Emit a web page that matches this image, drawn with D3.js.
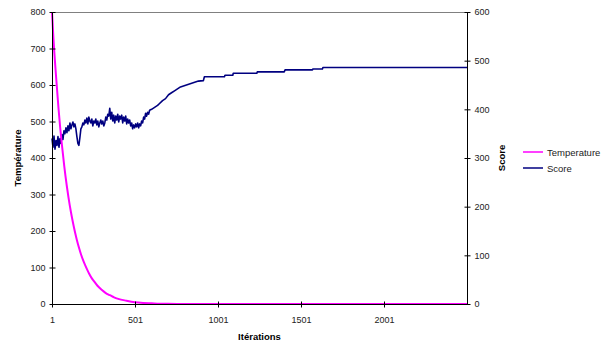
<!DOCTYPE html>
<html><head><meta charset="utf-8">
<script src="https://cdn.jsdelivr.net/npm/d3@7/dist/d3.min.js"></script>
<style>body{margin:0;background:#fff}svg{display:block;font-family:"Liberation Sans",Arial,sans-serif}</style>
</head><body><svg id="c" width="613" height="347"></svg>
<script>
// ---- data ----
const xTicks = [1, 501, 1001, 1501, 2001];
const yLeftTicks = [0, 100, 200, 300, 400, 500, 600, 700, 800];
const yRightTicks = [0, 100, 200, 300, 400, 500, 600];
const seriesNames = ["Temperature", "Score"];

const tempIter = [1, 10, 25, 40, 50, 60, 75, 90, 100, 115, 125, 140, 150, 165, 175, 190, 200, 215, 225, 240, 250, 275, 300, 325, 350, 375, 400, 450, 500, 550, 600, 650, 700, 800, 1000, 1500, 2000, 2501];
const tempVal  = [800, 725, 626, 537, 485, 439, 377, 324, 293, 252, 228, 196, 177, 152, 137, 118, 107, 92, 83, 71, 65, 50, 39, 30, 24, 18, 14, 9, 5, 3, 2, 1, 0.5, 0, 0, 0, 0, 0];

const scoreIter = [1, 7, 13, 19, 25, 31, 37, 43, 49, 55, 61, 67, 73, 79, 85, 91, 97, 103, 109, 115, 121, 127, 133, 139, 145, 151, 157, 163, 169, 175, 181, 187, 193, 199, 205, 211, 217, 223, 229, 235, 241, 247, 253, 259, 265, 271, 277, 283, 289, 295, 301, 307, 313, 319, 325, 331, 337, 343, 349, 355, 361, 367, 373, 379, 385, 391, 397, 403, 409, 415, 421, 427, 433, 439, 445, 451, 457, 463, 469, 475, 481, 487, 493, 499, 505, 511, 517, 523, 529, 535, 541, 547, 553, 559, 565, 571, 577, 583, 589, 601, 619, 637, 649, 667, 685, 703, 721, 739, 757, 775, 793, 811, 829, 847, 865, 883, 913, 919, 1040, 1043, 1090, 1093, 1235, 1238, 1400, 1405, 1570, 1573, 1630, 1633, 2501];
const scoreVal  = [340, 322, 345, 318, 336, 326, 344, 322, 340, 330, 348, 338, 356, 350, 362, 352, 366, 356, 372, 360, 368, 374, 364, 370, 360, 344, 330, 326, 342, 360, 364, 372, 368, 378, 372, 382, 370, 384, 376, 372, 380, 366, 376, 372, 380, 368, 376, 364, 372, 378, 370, 376, 366, 372, 384, 378, 390, 386, 402, 380, 394, 376, 388, 372, 386, 378, 390, 374, 386, 380, 388, 372, 384, 376, 386, 370, 380, 372, 378, 366, 372, 360, 368, 362, 370, 364, 372, 362, 370, 366, 376, 372, 384, 380, 392, 386, 394, 390, 398, 400, 404, 408, 412, 418, 422, 430, 434, 438, 442, 446, 448, 450, 452, 454, 456, 458, 459, 467, 467, 470, 470, 474, 474, 477, 477, 481, 481, 483, 483, 486, 486];

// ---- chart ----
const svg = d3.select("#c");
const L = 52, R = 467, T = 12, B = 304;
const x = d3.scaleLinear().domain([1, 2501]).range([L, R]);
const yL = d3.scaleLinear().domain([0, 800]).range([B, T]);
const yR = d3.scaleLinear().domain([0, 600]).range([B, T]);
const txt = "#222";

// top border
svg.append("line").attr("x1", L).attr("x2", R).attr("y1", T + 0.5).attr("y2", T + 0.5)
  .attr("stroke", "#808080").attr("stroke-width", 1);

const tempData = tempIter.map((d, i) => [d, tempVal[i]]);
const scoreData = scoreIter.map((d, i) => [d, scoreVal[i]]);

svg.append("path").datum(scoreData)
  .attr("d", d3.line().x(d => x(d[0])).y(d => yR(d[1])))
  .attr("fill", "none").attr("stroke", "#000080").attr("stroke-width", 1.6).attr("stroke-linejoin", "round");
svg.append("path").datum(tempData)
  .attr("d", d3.line().x(d => x(d[0])).y(d => yL(d[1])).curve(d3.curveMonotoneX))
  .attr("fill", "none").attr("stroke", "#FF00FF").attr("stroke-width", 2);

// axes
const gL = svg.append("g").attr("transform", `translate(${L + 0.5},0)`)
  .call(d3.axisLeft(yL).tickValues(yLeftTicks).tickSize(3).tickPadding(4));
gL.selectAll(".tick line").attr("x1", 3);
const gR = svg.append("g").attr("transform", `translate(${R + 0.5},0)`)
  .call(d3.axisRight(yR).tickValues(yRightTicks).tickSize(3).tickPadding(4));
gR.selectAll(".tick line").attr("x1", -3);
const gB = svg.append("g").attr("transform", `translate(0,${B + 0.5})`)
  .call(d3.axisBottom(x).tickValues(xTicks).tickFormat(d3.format("d")).tickSize(3).tickPadding(9));
gB.selectAll(".tick line").attr("y1", -3);
[gL, gR, gB].forEach(g => {
  g.select(".domain").attr("stroke", "#000");
  g.selectAll(".tick line").attr("stroke", "#000");
  g.selectAll("text").attr("fill", txt).style("font-size", "9px").style("font-family", '"Liberation Sans",Arial,sans-serif');
});
gL.select(".domain").attr("d", `M0,${T}V${B}`);
gR.select(".domain").attr("d", `M0,${T}V${B}`);
gB.select(".domain").attr("d", `M${L},0H${R}`);

// titles
svg.append("text").attr("transform", `translate(21,${(T + B) / 2}) rotate(-90)`)
  .attr("text-anchor", "middle").attr("font-size", 9.5).attr("font-weight", "bold").attr("fill", "#000").text("Température");
svg.append("text").attr("transform", `translate(505,${(T + B) / 2}) rotate(-90)`)
  .attr("text-anchor", "middle").attr("font-size", 9.5).attr("font-weight", "bold").attr("fill", "#000").text("Score");
svg.append("text").attr("x", (L + R) / 2).attr("y", 340)
  .attr("text-anchor", "middle").attr("font-size", 9.5).attr("font-weight", "bold").attr("fill", "#000").text("Itérations");

// legend
const legColors = ["#FF00FF", "#000080"];
seriesNames.forEach((n, i) => {
  const yy = 152 + i * 16;
  svg.append("line").attr("x1", 523).attr("x2", 543).attr("y1", yy).attr("y2", yy)
    .attr("stroke", legColors[i]).attr("stroke-width", 1.5);
  svg.append("text").attr("x", 547).attr("y", yy + 3.5).attr("font-size", 9.5).attr("fill", txt).text(n);
});
</script></body></html>
